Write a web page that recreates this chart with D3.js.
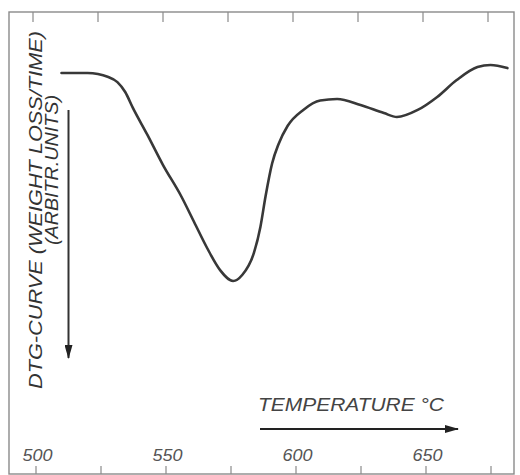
<!DOCTYPE html>
<html>
<head>
<meta charset="utf-8">
<script src="https://cdn.jsdelivr.net/npm/d3@7"></script>
<style>
  body { margin: 0; background: #fff; }
  text { font-family: "Liberation Sans", Arial, sans-serif; font-style: italic; fill: #333; }
</style>
</head>
<body>
<div id="chart"></div>
<script>
// DTG curve, temperature in degC vs weight loss rate (arbitrary units, larger = more loss)
var temps = [510, 520, 528, 531.5, 534.5, 537.5, 543, 549, 556, 561, 566, 571, 576, 579.5, 584, 586.5, 588.5, 591, 593.5, 597, 603, 609.5, 616, 625, 634, 639, 647, 654.5, 662, 670, 675, 681.5];
var dtg = [12.7, 12.7, 14.2, 16.2, 20, 26.2, 36.4, 48, 60, 70, 80, 88.5, 92.7, 90.4, 81.9, 71.9, 60, 47.5, 40, 33, 26.9, 23.3, 22.7, 25, 28.1, 29.6, 26.9, 21.9, 15.4, 10.4, 9.6, 10.8];
var majorTicks = [500, 550, 600, 650];
var allTicks = [500, 525, 550, 575, 600, 625, 650, 675];
var yTitle1 = 'DTG-CURVE (WEIGHT LOSS/TIME)';
var yTitle2 = '(ARBITR.UNITS)';
var xTitle = 'TEMPERATURE °C';

var width = 520, height = 475;
var frame = {left: 9, top: 12, right: 514, bottom: 474};

var svg = d3.select('#chart').append('svg')
    .attr('width', width)
    .attr('height', height);

var xScale = d3.scaleLinear().domain([500, 650]).range([35.5, 425.5]);
var yScale = d3.scaleLinear().domain([0, 100]).range([40, 300]);

// frame
svg.append('rect')
    .attr('x', frame.left).attr('y', frame.top)
    .attr('width', frame.right - frame.left)
    .attr('height', frame.bottom - frame.top)
    .attr('fill', 'none')
    .attr('stroke', '#8a8a8a')
    .attr('stroke-width', 1.4);

// top ticks (inward)
var topAxis = d3.axisBottom(xScale).tickValues(allTicks).tickSize(10).tickFormat('');
svg.append('g')
    .attr('class', 'top-axis')
    .attr('transform', 'translate(-3,' + frame.top + ')')
    .call(topAxis);

// bottom ticks (inward) + labels
var bottomAxis = d3.axisTop(xScale).tickValues(allTicks).tickSize(8).tickFormat('');
svg.append('g')
    .attr('class', 'bottom-axis')
    .attr('transform', 'translate(0,' + frame.bottom + ')')
    .call(bottomAxis);

svg.selectAll('.domain').remove();
svg.selectAll('.tick line').attr('stroke', '#8a8a8a').attr('stroke-width', 1.2);

svg.selectAll('.tick-label')
    .data(majorTicks)
    .enter().append('text')
    .attr('class', 'tick-label')
    .attr('x', function(d) { return xScale(d) + 2; })
    .attr('y', 461)
    .attr('text-anchor', 'middle')
    .attr('textLength', 30)
    .attr('lengthAdjust', 'spacingAndGlyphs')
    .style('font-size', '16.5px')
    .style('fill', '#555')
    .text(function(d) { return d; });

// curve
var line = d3.line()
    .x(function(d, i) { return xScale(temps[i]); })
    .y(function(d) { return yScale(d); })
    .curve(d3.curveMonotoneX);

svg.append('path')
    .attr('d', line(dtg))
    .attr('fill', 'none')
    .attr('stroke', '#383838')
    .attr('stroke-width', 2.6)
    .attr('stroke-linecap', 'round');

// arrow marker
svg.append('defs').append('marker')
    .attr('id', 'arrow')
    .attr('viewBox', '0 0 14 8')
    .attr('refX', 13).attr('refY', 4)
    .attr('markerWidth', 14).attr('markerHeight', 8)
    .attr('markerUnits', 'userSpaceOnUse')
    .attr('orient', 'auto')
    .append('path')
    .attr('d', 'M0,0 L14,4 L0,8 z')
    .attr('fill', '#222');

// y arrow (weight loss downward)
svg.append('line')
    .attr('x1', 68.5).attr('y1', 110)
    .attr('x2', 68.5).attr('y2', 358)
    .attr('stroke', '#333').attr('stroke-width', 2)
    .attr('marker-end', 'url(#arrow)');

// y titles
svg.append('text')
    .attr('transform', 'translate(42,210) rotate(-90)')
    .attr('text-anchor', 'middle')
    .attr('textLength', 358)
    .attr('lengthAdjust', 'spacingAndGlyphs')
    .style('font-size', '17.5px')
    .text(yTitle1);

svg.append('text')
    .attr('transform', 'translate(58,170) rotate(-90)')
    .attr('text-anchor', 'middle')
    .attr('textLength', 150)
    .attr('lengthAdjust', 'spacingAndGlyphs')
    .style('font-size', '17.5px')
    .text(yTitle2);

// x title + arrow
svg.append('text')
    .attr('x', 258).attr('y', 411)
    .attr('textLength', 186)
    .attr('lengthAdjust', 'spacingAndGlyphs')
    .style('font-size', '18px')
    .style('fill', '#444')
    .text(xTitle);

svg.append('line')
    .attr('x1', 260).attr('y1', 429)
    .attr('x2', 458).attr('y2', 429)
    .attr('stroke', '#222').attr('stroke-width', 2)
    .attr('marker-end', 'url(#arrow)');
</script>
</body>
</html>
